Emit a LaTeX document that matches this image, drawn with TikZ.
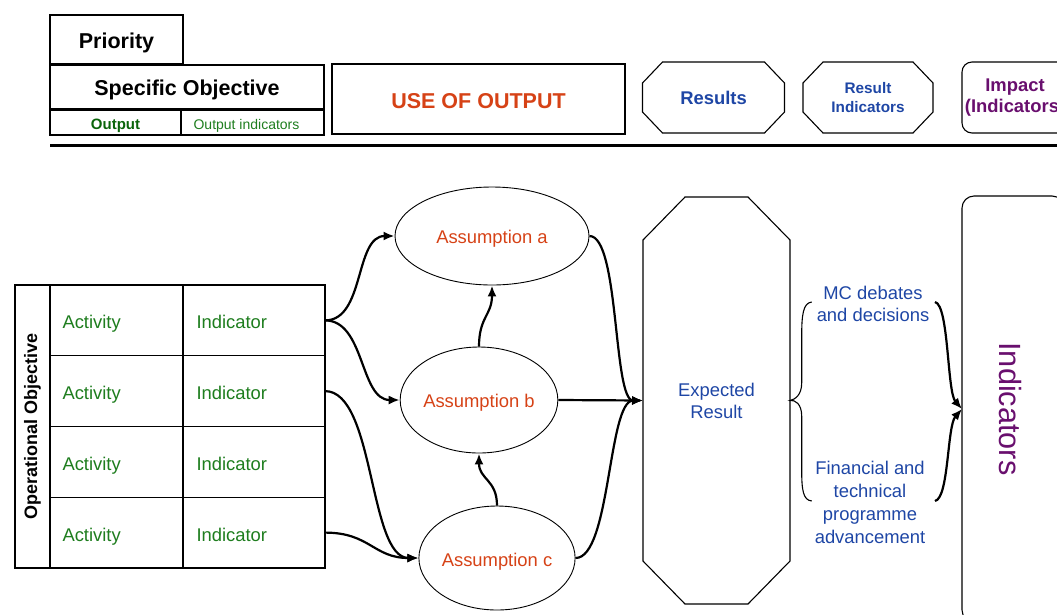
\documentclass[tikz,border=0pt]{standalone}
\usepackage{fontspec}
\usepackage{graphicx}
\setmainfont{Liberation Sans}
\usetikzlibrary{shapes.geometric,arrows.meta}

\definecolor{ogreen}{RGB}{30,125,30}
\definecolor{dgreen}{RGB}{10,100,10}
\definecolor{ored}{RGB}{214,66,22}
\definecolor{oblue}{RGB}{30,70,165}
\definecolor{opurple}{RGB}{105,15,110}

\newcommand\szbig{\fontsize{21.5pt}{25pt}\selectfont}
\newcommand\szmid{\fontsize{18.4pt}{22.5pt}\selectfont}
\newcommand\szsmall{\fontsize{15.3pt}{19pt}\selectfont}
\newcommand\sztiny{\fontsize{14pt}{17pt}\selectfont}
\newcommand\szhuge{\fontsize{30.7pt}{36pt}\selectfont}

% octagonal outline drawn around a named node: node, x chamfer, y chamfer
\newcommand\chamferbox[3]{%
  \draw[line width=1.1pt]
    ([xshift=#2]#1.north west) -- ([xshift=-#2]#1.north east)
    -- ([yshift=-#3]#1.north east) -- ([yshift=#3]#1.south east)
    -- ([xshift=-#2]#1.south east) -- ([xshift=#2]#1.south west)
    -- ([yshift=#3]#1.south west) -- ([yshift=-#3]#1.north west) -- cycle;}

\begin{document}
\begin{tikzpicture}[x=1pt,y=-1pt,
  oneline/.style={text height=#1, text depth=0pt},
  box/.style={draw, rectangle, inner sep=0pt, outer sep=0pt},
  plain/.style={rectangle, inner sep=0pt, outer sep=0pt, align=center},
  cell/.style={draw, rectangle, line width=1.2pt, inner ysep=0pt, oneline=16.9pt,
    minimum height=70.75pt, text=ogreen, font=\szmid, align=left, outer sep=0pt},
  actcell/.style={cell, inner xsep=12.5pt, text width=108pt, minimum width=133pt},
  indcell/.style={cell, inner xsep=13.5pt, text width=115pt, minimum width=142pt},
  ell/.style={draw, ellipse, line width=0.9pt, inner sep=0pt, text=ored, font=\szmid},
  txt/.style={inner sep=0pt, align=center, text=oblue, font=\szmid},
  conn/.style={line width=2.2pt, -{Latex[length=11pt,width=9pt]}},
]
\useasboundingbox (0,0) rectangle (1057,614);
\clip (0,0) rectangle (1057,614);

% ---- header row ----
\node[box, oneline=17.5pt, line width=2.5pt, minimum width=133pt, minimum height=49pt,
      font=\szbig\bfseries] (prio) at (116.5,39.5) {Priority};
\node[box, oneline=16.5pt, line width=2.5pt, minimum width=274pt, minimum height=44pt,
      font=\szbig\bfseries] (spec) at (187,87) {Specific Objective};
\node[box, oneline=14.8pt, line width=1.3pt, minimum width=131pt, minimum height=25pt,
      font=\fontsize{15pt}{18pt}\selectfont\bfseries, text=dgreen] (outp) at (115.5,122.5) {Output};
\node[box, oneline=13.5pt, line width=1.3pt, minimum width=143pt, minimum height=25pt,
      font=\sztiny, text=ogreen] (outi) at (252.5,122.5) {Output indicators\hspace*{12pt}};
\node[box, oneline=18.5pt, line width=2pt, minimum width=293pt, minimum height=70pt,
      font=\szbig\bfseries, text=ored] (use) at (478.5,99) {USE OF OUTPUT};

\node[plain, oneline=13.3pt, minimum width=142pt, minimum height=71pt,
      font=\szmid\bfseries, text=oblue] (res) at (713.5,97.5) {Results};
\chamferbox{res}{20pt}{21pt}
\node[plain, minimum width=130pt, minimum height=71pt,
      font=\szsmall\bfseries, text=oblue] (resind) at (868,97.5) {Result\\Indicators};
\chamferbox{resind}{20pt}{21pt}
\node[box, line width=1.1pt, rounded corners=10pt, minimum width=106pt, minimum height=71pt,
      align=center, font=\fontsize{18.4pt}{21pt}\selectfont\bfseries, text=opurple] (impact) at (1015,97.5)
      {Impact\\(Indicators)};

\coordinate (ruleL) at (50,145);
\coordinate (ruleR) at (1057,145);
\draw[line width=3pt] (ruleL) -- (ruleR);

% ---- operational objective table ----
\node[box, line width=1.2pt, minimum width=35pt, minimum height=283pt,
      font=\fontsize{18pt}{21pt}\selectfont\bfseries] (opobj) at (32.5,426.5)
      {\rotatebox{90}{Operational Objective}};
\node[actcell] (act1) at (116.5,320.4) {Activity};
\node[actcell] (act2) at (116.5,391.1) {Activity};
\node[actcell] (act3) at (116.5,461.9) {Activity};
\node[actcell] (act4) at (116.5,532.6) {Activity};
\node[indcell] (ind1) at (254,320.4) {Indicator};
\node[indcell] (ind2) at (254,391.1) {Indicator};
\node[indcell] (ind3) at (254,461.9) {Indicator};
\node[indcell] (ind4) at (254,532.6) {Indicator};

% ---- assumptions ----
\node[ell, oneline=15.6pt, minimum width=194pt, minimum height=98pt] (asa) at (492,236) {Assumption a};
\node[ell, oneline=14.3pt, minimum width=150pt, minimum height=106pt] (asb) at (479,400) {Assumption b};
\node[ell, oneline=17.9pt, minimum width=150pt, minimum height=104pt] (asc) at (497,558) {Assumption c};

% ---- expected result ----
\node[plain, minimum width=147pt, minimum height=407pt, text=oblue,
      font=\fontsize{18.4pt}{22pt}\selectfont] (er) at (716.5,400.5) {Expected\\Result};
\chamferbox{er}{42pt}{43pt}

% ---- indicators column ----
\node[box, line width=1.1pt, rounded corners=12pt, minimum width=102pt, minimum height=426pt,
      font=\szhuge, text=opurple] (indbox) at (1013,409) {\rotatebox{-90}{Indicators}\hspace*{5pt}};

% ---- feedback texts ----
\node[txt, font=\fontsize{18.4pt}{22pt}\selectfont] (mc) at (873,304) {MC debates\\and decisions};
\node[txt, font=\fontsize{18.4pt}{23pt}\selectfont] (fin) at (870,502.5)
      {Financial and\\technical\\programme\\advancement};

% brace opening from the expected result
\draw[line width=1.1pt] (811.7,302) .. controls (803,303) and (801.7,315) .. (801.7,336)
  -- (801.7,383) .. controls (801.7,395) and (795,399.5) .. (er.east)
  .. controls (795,399.5) and (801.7,404) .. (801.7,416)
  -- (801.7,470) .. controls (801.7,490) and (803,500) .. (811.7,501);

% ---- connectors ----
\draw[conn] (ind1.east) .. controls +(40,0) and +(-40,0) .. (asa.west);
\draw[conn] (ind1.east) .. controls +(40,0) and +(-40,0) .. (asb.west);
\draw[conn] (ind2.east) .. controls +(50,0) and +(-50,0) .. (asc.west);
\draw[conn] (ind4.east) .. controls +(45,0) and +(-45,0) .. (asc.west);

\draw[conn] (asb.north) .. controls +(0,-30) and +(0,30) .. (asa.south);
\draw[conn] (asc.north) .. controls +(0,-26) and +(0,26) .. (asb.south);

\draw[conn] (asa.east) .. controls +(30,0) and +(-30,0) .. (er.west);
\draw[conn] (asb.east) -- (er.west);
\draw[conn] (asc.east) .. controls +(35,0) and +(-35,0) .. (er.west);

\coordinate (mcend) at (935,302);
\coordinate (finend) at (935,501);
\draw[conn] (mcend) .. controls (949,305) and (947,392) .. (indbox.west);
\draw[conn] (finend) .. controls (949,498) and (947,426) .. (indbox.west);
\end{tikzpicture}
\end{document}
